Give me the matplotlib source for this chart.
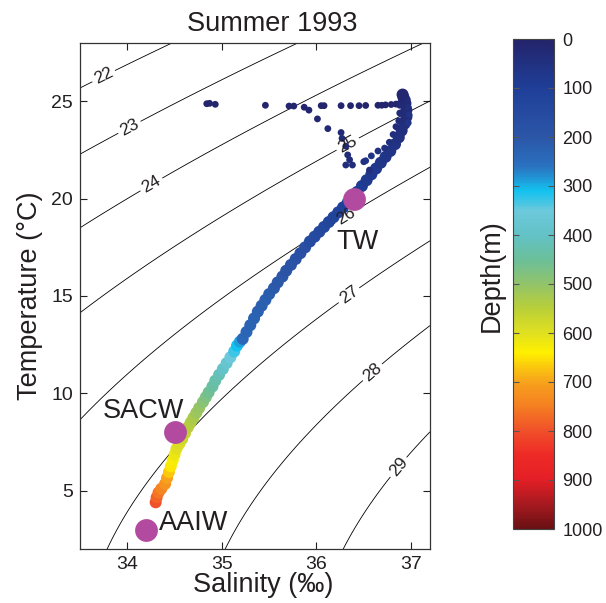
import matplotlib
matplotlib.use("Agg")
import matplotlib.pyplot as plt
import numpy as np
from matplotlib.colors import LinearSegmentedColormap

plt.rcParams["font.family"] = ["Liberation Sans", "DejaVu Sans"]
TXT = "#231f20"

# CTD profile: salinity, temperature, depth (m)
# main band, deep end first
band_sal = [34.30, 34.31, 34.33, 34.36, 34.40, 34.42, 34.44, 34.46, 34.48, 34.50,
            34.52, 34.55, 34.58, 34.61, 34.64, 34.67, 34.70, 34.73, 34.76, 34.80,
            34.83, 34.86, 34.90, 34.93, 34.97, 35.01, 35.05, 35.09, 35.13, 35.16,
            35.19, 35.22, 35.26, 35.30, 35.34, 35.38, 35.42, 35.46, 35.50, 35.55,
            35.59, 35.64, 35.68, 35.73, 35.78, 35.83, 35.88, 35.93, 35.98, 36.03,
            36.08, 36.13, 36.18, 36.23, 36.28, 36.33, 36.38, 36.43, 36.48, 36.53,
            36.58, 36.63, 36.68, 36.73, 36.78, 36.83, 36.87, 36.90, 36.93, 36.95,
            36.95, 36.94, 36.92, 36.91]
band_temp = [4.40, 4.65, 4.90, 5.10, 5.35, 5.65, 5.95, 6.25, 6.55, 6.85,
             7.15, 7.40, 7.65, 7.95, 8.25, 8.50, 8.75, 9.00, 9.25, 9.55,
             9.80, 10.05, 10.35, 10.65, 10.95, 11.25, 11.55, 11.85, 12.15, 12.45,
             12.65, 12.80, 13.15, 13.50, 13.85, 14.20, 14.50, 14.80, 15.10, 15.40,
             15.70, 16.00, 16.30, 16.60, 16.90, 17.20, 17.50, 17.80, 18.05, 18.30,
             18.55, 18.80, 19.05, 19.30, 19.55, 19.80, 20.05, 20.35, 20.65, 20.95,
             21.25, 21.55, 21.85, 22.15, 22.45, 22.80, 23.15, 23.50, 23.85, 24.20,
             24.55, 24.90, 25.20, 25.35]
band_depth = [800, 780, 760, 740, 720, 700, 670, 645, 630, 615,
              600, 590, 575, 565, 550, 540, 530, 515, 505, 490,
              475, 460, 445, 430, 415, 395, 375, 355, 330, 310,
              290, 240, 235, 230, 228, 225, 222, 220, 215, 210,
              205, 200, 195, 190, 180, 175, 170, 160, 150, 145,
              140, 130, 125, 120, 110, 105, 100, 95, 90, 85,
              80, 75, 70, 65, 60, 55, 50, 45, 40, 35,
              30, 25, 20, 15]

# upper mixed layer: scattered dots
dot_sal = [34.84, 34.87, 34.93, 35.46, 35.71, 35.76, 35.87, 35.92, 36.01, 36.12,
           36.05, 36.08, 36.26, 36.36, 36.45, 36.52, 36.65, 36.69, 36.73, 36.79,
           36.84, 36.88, 36.26, 36.27, 36.31, 36.33, 36.35, 36.31, 36.38, 36.50,
           36.56, 36.52, 36.58, 36.65, 36.72, 36.77, 36.81, 36.84, 36.87, 36.88,
           36.88, 36.97, 36.98, 36.97, 36.96, 36.93]
dot_temp = [24.88, 24.90, 24.85, 24.80, 24.76, 24.76, 24.70, 24.55, 24.10, 23.60,
            24.78, 24.78, 24.78, 24.78, 24.78, 24.79, 24.80, 24.80, 24.82, 24.84,
            24.86, 24.90, 23.40, 23.10, 22.70, 22.25, 22.00, 21.73, 21.73, 21.90,
            21.47, 21.95, 22.20, 22.45, 22.60, 22.90, 23.30, 23.70, 24.00, 24.40,
            24.80, 23.90, 24.30, 24.70, 25.10, 25.30]
dot_depth = [5, 5, 5, 5, 5, 5, 8, 10, 15, 20,
             5, 5, 5, 5, 5, 5, 5, 5, 5, 5,
             5, 8, 25, 28, 30, 32, 35, 38, 38, 45,
             40, 55, 55, 50, 50, 45, 40, 35, 35, 30,
             25, 60, 55, 40, 30, 15]

# water masses
wm_names = ["TW", "SACW", "AAIW"]
wm_sal = [36.4, 34.5, 34.2]
wm_temp = [20.0, 8.0, 3.0]
wm_label_xy = [(36.43, 17.8), (34.17, 9.1), (34.70, 3.35)]

sigma_levels = [22, 23, 24, 25, 26, 27, 28, 29]
sigma_label_pos = [(33.75, 26.3), (34.03, 23.6), (34.27, 20.6), (36.32, 22.9),
                   (36.30, 19.2), (36.32, 15.2), (36.57, 11.2), (36.82, 6.4)]

cbar_ticks = [0, 100, 200, 300, 400, 500, 600, 700, 800, 900, 1000]

depth_cmap = LinearSegmentedColormap.from_list("depth", [
    (0.00, "#23246b"), (0.10, "#1f3f98"), (0.20, "#2c56a8"), (0.26, "#2a72c0"),
    (0.31, "#14c2f0"), (0.35, "#6cc9dc"), (0.40, "#62c2c6"), (0.45, "#6bbf9a"),
    (0.50, "#92c46a"), (0.55, "#b9cf38"), (0.60, "#e0e020"), (0.64, "#fff000"),
    (0.70, "#f7a21c"), (0.75, "#f57f22"), (0.80, "#f0502a"), (0.85, "#ee2a26"),
    (0.90, "#e41f26"), (0.95, "#a81a20"), (1.00, "#6b1013")])


def sigma_t(S, T):
    # UNESCO EOS-80 density at surface pressure, minus 1000
    rw = (999.842594 + 6.793952e-2 * T - 9.095290e-3 * T**2 + 1.001685e-4 * T**3
          - 1.120083e-6 * T**4 + 6.536332e-9 * T**5)
    a = 8.24493e-1 - 4.0899e-3 * T + 7.6438e-5 * T**2 - 8.2467e-7 * T**3 + 5.3875e-9 * T**4
    b = -5.72466e-3 + 1.0227e-4 * T - 1.6546e-6 * T**2
    c = 4.8314e-4
    return rw + a * S + b * S**1.5 + c * S**2 - 1000.0


fig = plt.figure(figsize=(6.06, 6.03), dpi=100)
ax = fig.add_axes([80 / 606, 54 / 603, 350 / 606, 506 / 603])

sg, tg = np.meshgrid(np.linspace(33.5, 37.2, 300), np.linspace(2, 28, 300))
cs = ax.contour(sg, tg, sigma_t(sg, tg), levels=sigma_levels, colors="k", linewidths=0.6)
ax.clabel(cs, fmt="%d", fontsize=12.5, inline=True, inline_spacing=3,
          manual=sigma_label_pos, colors=TXT)

ax.scatter(band_sal, band_temp, c=band_depth, cmap=depth_cmap, vmin=0, vmax=1000,
           s=75, linewidths=0, zorder=3)
sc = ax.scatter(dot_sal, dot_temp, c=dot_depth, cmap=depth_cmap, vmin=0, vmax=1000,
                s=24, linewidths=0, zorder=3)

ax.scatter(wm_sal, wm_temp, s=270, color="#b24a9f", linewidths=0, zorder=4)
for name, (x, y) in zip(wm_names, wm_label_xy):
    ax.text(x, y, name, fontsize=19.5, color=TXT, ha="center", va="center", zorder=5)

ax.set_xlim(33.5, 37.2)
ax.set_ylim(2, 28)
ax.set_xticks([34, 35, 36, 37])
ax.set_yticks([5, 10, 15, 20, 25])
ax.tick_params(direction="in", top=True, right=True, length=5, width=0.8,
               labelsize=14, colors=TXT, labelcolor=TXT, pad=5)
for sp in ax.spines.values():
    sp.set_color("#333333")
    sp.set_linewidth(0.9)
ax.set_xlabel("Salinity (‰)", fontsize=19.5, color=TXT)
ax.xaxis.set_label_coords((263 - 80) / 350, -0.045)
ax.set_ylabel("Temperature (°C)", fontsize=19.5, color=TXT, labelpad=6)
fig.text(272 / 606, 1 - 24 / 603, "Summer 1993", fontsize=19.5, color=TXT,
         ha="center", va="center")

cax = fig.add_axes([513 / 606, 74 / 603, 41 / 606, 490 / 603])
cb = fig.colorbar(sc, cax=cax, ticks=cbar_ticks)
cax.invert_yaxis()
cb.outline.set_edgecolor("#444444")
cb.outline.set_linewidth(0.8)
cax.tick_params(direction="in", left=True, right=True, length=4, width=0.8,
                labelsize=13, colors="#555555", labelcolor=TXT, pad=6)
fig.text(491.7 / 606, 1 - 276 / 603, "Depth(m)", fontsize=19.5, color=TXT,
         rotation=90, ha="center", va="center")

fig.savefig("out.png", dpi=100)
